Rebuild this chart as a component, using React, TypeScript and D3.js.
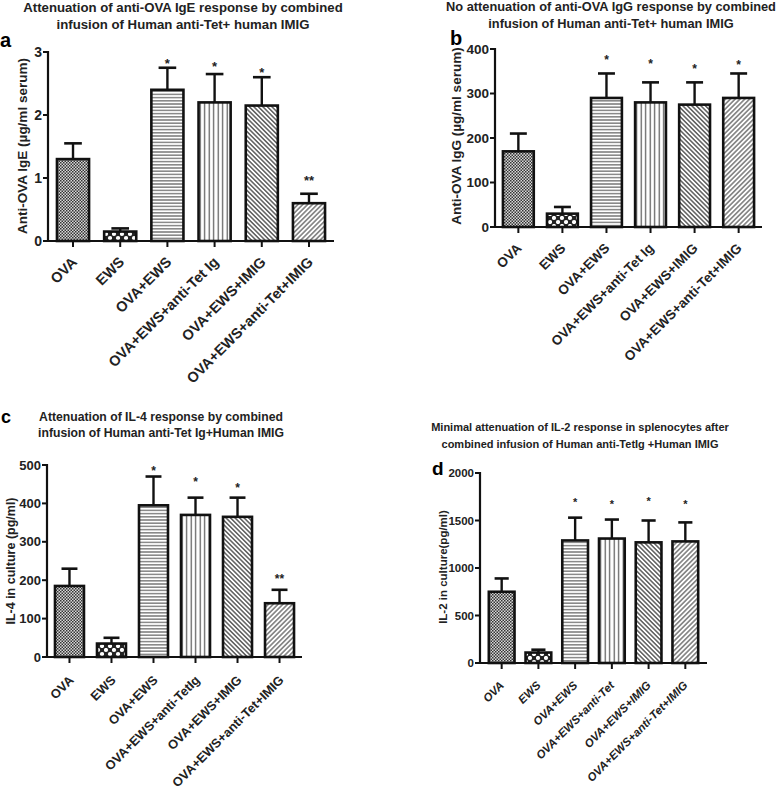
import React from "react";
import * as d3 from "d3";

// ---------- DATA ----------
const categoriesA = ["OVA", "EWS", "OVA+EWS", "OVA+EWS+anti-Tet Ig", "OVA+EWS+IMIG", "OVA+EWS+anti-Tet+IMIG"];
const meansA = [1.3, 0.15, 2.4, 2.2, 2.15, 0.6];
const errorsA = [0.25, 0.05, 0.35, 0.45, 0.45, 0.15];
const starsA = ["", "", "*", "*", "*", "**"];
const starLevelsA = [0, 0, 2.86, 2.81, 2.71, 1.0];
const ticksA = [0, 1, 2, 3];

const categoriesB = ["OVA", "EWS", "OVA+EWS", "OVA+EWS+anti-Tet Ig", "OVA+EWS+IMIG", "OVA+EWS+anti-Tet+IMIG"];
const meansB = [170, 30, 290, 280, 275, 290];
const errorsB = [40, 15, 55, 45, 50, 55];
const starsB = ["", "", "*", "*", "*", "*"];
const starLevelsB = [0, 0, 382, 373, 362, 369];
const ticksB = [0, 100, 200, 300, 400];

const categoriesC = ["OVA", "EWS", "OVA+EWS", "OVA+EWS+anti-TetIg", "OVA+EWS+IMIG", "OVA+EWS+anti-Tet+IMIG"];
const meansC = [185, 35, 395, 370, 365, 140];
const errorsC = [45, 15, 75, 45, 50, 35];
const starsC = ["", "", "*", "*", "*", "**"];
const starLevelsC = [0, 0, 492, 463, 448, 211];
const ticksC = [0, 100, 200, 300, 400, 500];

const categoriesD = ["OVA", "EWS", "OVA+EWS", "OVA+EWS+anti-Tet", "OVA+EWS+IMIG", "OVA+EWS+anti-Tet+IMIG"];
const meansD = [750, 110, 1290, 1310, 1270, 1280];
const errorsD = [140, 30, 240, 200, 230, 200];
const starsD = ["", "", "*", "*", "*", "*"];
const starLevelsD = [0, 0, 1716, 1695, 1726, 1695];
const ticksD = [0, 500, 1000, 1500, 2000];

const fills = ["url(#pCheck)", "url(#pDots)", "url(#pHoriz)", "url(#pVert)", "url(#pDiagUp)", "url(#pDiagDown)"];

const FONT = "'Liberation Sans', Arial, sans-serif";

type PanelProps = {
  categories: string[];
  means: number[];
  errors: number[];
  stars: string[];
  starLevels: number[];
  ticks: number[];
  domainMax: number;
  xRange: [number, number];
  padInner: number;
  padOuter: number;
  yRange: [number, number];
  title: string[];
  titleX: number;
  titleY: number[];
  titleSize: number;
  letter: string;
  letterX: number;
  letterY: number;
  letterSize: number;
  yLabel: string;
  yLabelX: number;
  yLabelY: number;
  yLabelSize: number;
  tickSize: number;
  fontSize: number;
  labelDx: number;
  labelDy: number;
  italic?: boolean;
  starSize: number;
};

function Panel(p: PanelProps) {
  const x = d3.scaleBand<string>().domain(p.categories).range(p.xRange).paddingInner(p.padInner).paddingOuter(p.padOuter);
  const y = d3.scaleLinear().domain([0, p.domainMax]).range(p.yRange);
  const bw = x.bandwidth();
  const y0 = y(0);
  const axisX = p.xRange[0];
  const fs = p.fontSize;
  return (
    <g>
      {p.title.map((t, i) => (
        <text key={i} x={p.titleX} y={p.titleY[i]} textAnchor="middle" fontFamily={FONT} fontWeight="bold" fontSize={p.titleSize} fill="#222">
          {t}
        </text>
      ))}
      <text x={p.letterX} y={p.letterY} fontFamily={FONT} fontWeight="bold" fontSize={p.letterSize} fill="#000">
        {p.letter}
      </text>
      <text
        transform={`translate(${p.yLabelX},${p.yLabelY}) rotate(-90)`}
        textAnchor="middle"
        fontFamily={FONT}
        fontWeight="bold"
        fontSize={p.yLabelSize}
        fill="#222"
      >
        {p.yLabel}
      </text>
      {p.categories.map((c, i) => {
        const bx = x(c)!;
        const top = y(p.means[i]);
        const errTop = y(p.means[i] + p.errors[i]);
        const cx = bx + bw / 2;
        const capW = bw * 0.55;
        return (
          <g key={c}>
            <line x1={cx} x2={cx} y1={top} y2={errTop} stroke="#111" strokeWidth={2.4} />
            <line x1={cx - capW / 2} x2={cx + capW / 2} y1={errTop} y2={errTop} stroke="#111" strokeWidth={2.6} />
            <rect x={bx} y={top} width={bw} height={y0 - top} fill={fills[i]} stroke="#111" strokeWidth={2.6} />
            {p.stars[i] && (
              <text x={cx} y={y(p.starLevels[i]) + p.starSize * 0.55} textAnchor="middle" fontFamily={FONT} fontWeight="bold" fontSize={p.starSize} fill="#222">
                {p.stars[i]}
              </text>
            )}
          </g>
        );
      })}
      <line x1={axisX} x2={axisX} y1={y(p.domainMax) - 1} y2={y0 + 1} stroke="#111" strokeWidth={2.2} />
      {p.ticks.map((t) => (
        <g key={t}>
          <line x1={axisX - 5} x2={axisX} y1={y(t)} y2={y(t)} stroke="#111" strokeWidth={2} />
          <text x={axisX - 6} y={y(t)} dy="0.36em" textAnchor="end" fontFamily={FONT} fontWeight="bold" fontSize={p.tickSize} fill="#222">
            {t}
          </text>
        </g>
      ))}
      <line x1={axisX - 5} x2={p.xRange[1]} y1={y0} y2={y0} stroke="#111" strokeWidth={2.2} />
      {p.categories.map((c) => {
        const cx = x(c)! + bw / 2;
        return (
          <g key={c}>
            <line x1={cx} x2={cx} y1={y0} y2={y0 + 6} stroke="#111" strokeWidth={2} />
            <text
              transform={`translate(${cx + p.labelDx},${y0 + p.labelDy}) rotate(-45)`}
              textAnchor="end"
              fontFamily={FONT}
              fontWeight="bold"
              fontStyle={p.italic ? "italic" : "normal"}
              fontSize={fs}
              fill="#222"
            >
              {c}
            </text>
          </g>
        );
      })}
    </g>
  );
}

export default function App() {
  return (
    <svg width={784} height={807} style={{ position: "absolute", left: 0, top: 0, background: "#fff" }}>
      <defs>
        <pattern id="pCheck" width="3" height="3" patternUnits="userSpaceOnUse">
          <rect width="3" height="3" fill="#d8d8d8" />
          <rect width="1.5" height="1.5" fill="#333" />
          <rect x="1.5" y="1.5" width="1.5" height="1.5" fill="#333" />
        </pattern>
        <pattern id="pDots" width="8" height="8" patternUnits="userSpaceOnUse">
          <rect width="8" height="8" fill="#222" />
          <circle cx="2" cy="2" r="2.1" fill="#fff" />
          <circle cx="6" cy="6" r="2.1" fill="#fff" />
        </pattern>
        <pattern id="pHoriz" width="4" height="3.2" patternUnits="userSpaceOnUse">
          <rect width="4" height="3.2" fill="#fff" />
          <line x1="0" x2="4" y1="1.6" y2="1.6" stroke="#555" strokeWidth="1.1" />
        </pattern>
        <pattern id="pVert" width="4.5" height="4" patternUnits="userSpaceOnUse">
          <rect width="4.5" height="4" fill="#fff" />
          <line x1="2.2" x2="2.2" y1="0" y2="4" stroke="#555" strokeWidth="1.2" />
        </pattern>
        <pattern id="pDiagUp" width="3.2" height="3.2" patternUnits="userSpaceOnUse" patternTransform="rotate(45)">
          <rect width="3.2" height="3.2" fill="#fff" />
          <line x1="0" x2="3.2" y1="1.6" y2="1.6" stroke="#444" strokeWidth="1.3" />
        </pattern>
        <pattern id="pDiagDown" width="3.4" height="3.4" patternUnits="userSpaceOnUse" patternTransform="rotate(-45)">
          <rect width="3.4" height="3.4" fill="#fff" />
          <line x1="0" x2="3.4" y1="1.7" y2="1.7" stroke="#555" strokeWidth="1.2" />
        </pattern>
      </defs>
      <Panel
        categories={categoriesA}
        means={meansA}
        errors={errorsA}
        stars={starsA}
        starLevels={starLevelsA}
        ticks={ticksA}
        domainMax={3}
        xRange={[48, 334]}
        padInner={0.32}
        padOuter={0.19}
        yRange={[241, 52]}
        title={["Attenuation of anti-OVA IgE response by combined", "infusion of Human anti-Tet+ human IMIG"]}
        titleX={183}
        titleY={[12, 29]}
        titleSize={13.2}
        letter="a"
        letterX={0}
        letterY={47}
        letterSize={20}
        yLabel="Anti-OVA IgE (µg/ml serum)"
        yLabelX={27}
        yLabelY={146}
        yLabelSize={13.5}
        tickSize={14}
        fontSize={14.5}
        labelDx={5}
        labelDy={22}
        starSize={13}
      />
      <Panel
        categories={categoriesB}
        means={meansB}
        errors={errorsB}
        stars={starsB}
        starLevels={starLevelsB}
        ticks={ticksB}
        domainMax={400}
        xRange={[495, 762]}
        padInner={0.3}
        padOuter={0.18}
        yRange={[227, 49]}
        title={["No attenuation of anti-OVA IgG response by combined", "infusion of Human anti-Tet+ human IMIG"]}
        titleX={611}
        titleY={[11, 28]}
        titleSize={12.8}
        letter="b"
        letterX={450}
        letterY={45}
        letterSize={20}
        yLabel="Anti-OVA IgG (µg/ml serum)"
        yLabelX={461}
        yLabelY={136}
        yLabelSize={13.5}
        tickSize={13.5}
        fontSize={13.5}
        labelDx={4}
        labelDy={22}
        starSize={12}
      />
      <Panel
        categories={categoriesC}
        means={meansC}
        errors={errorsC}
        stars={starsC}
        starLevels={starLevelsC}
        ticks={ticksC}
        domainMax={500}
        xRange={[47, 302]}
        padInner={0.31}
        padOuter={0.19}
        yRange={[657, 465]}
        title={["Attenuation of IL-4 response by combined", "infusion of Human anti-Tet Ig+Human IMIG"]}
        titleX={161}
        titleY={[421, 437]}
        titleSize={12.2}
        letter="c"
        letterX={1}
        letterY={423}
        letterSize={18}
        yLabel="IL-4 in culture  (pg/ml)"
        yLabelX={15}
        yLabelY={561}
        yLabelSize={12.5}
        tickSize={13}
        fontSize={12.8}
        labelDx={5}
        labelDy={24}
        starSize={12}
      />
      <Panel
        categories={categoriesD}
        means={meansD}
        errors={errorsD}
        stars={starsD}
        starLevels={starLevelsD}
        ticks={ticksD}
        domainMax={2000}
        xRange={[480, 707]}
        padInner={0.3}
        padOuter={0.24}
        yRange={[663, 473]}
        title={["Minimal attenuation of IL-2 response in splenocytes after", "combined infusion of Human anti-TetIg +Human  IMIG"]}
        titleX={580}
        titleY={[431, 448]}
        titleSize={11}
        letter="d"
        letterX={432}
        letterY={475}
        letterSize={19}
        yLabel="IL-2 in culture(pg/ml)"
        yLabelX={447}
        yLabelY={567}
        yLabelSize={11.5}
        tickSize={11.5}
        fontSize={11.5}
        labelDx={3}
        labelDy={23}
        italic
        starSize={11}
      />
    </svg>
  );
}
